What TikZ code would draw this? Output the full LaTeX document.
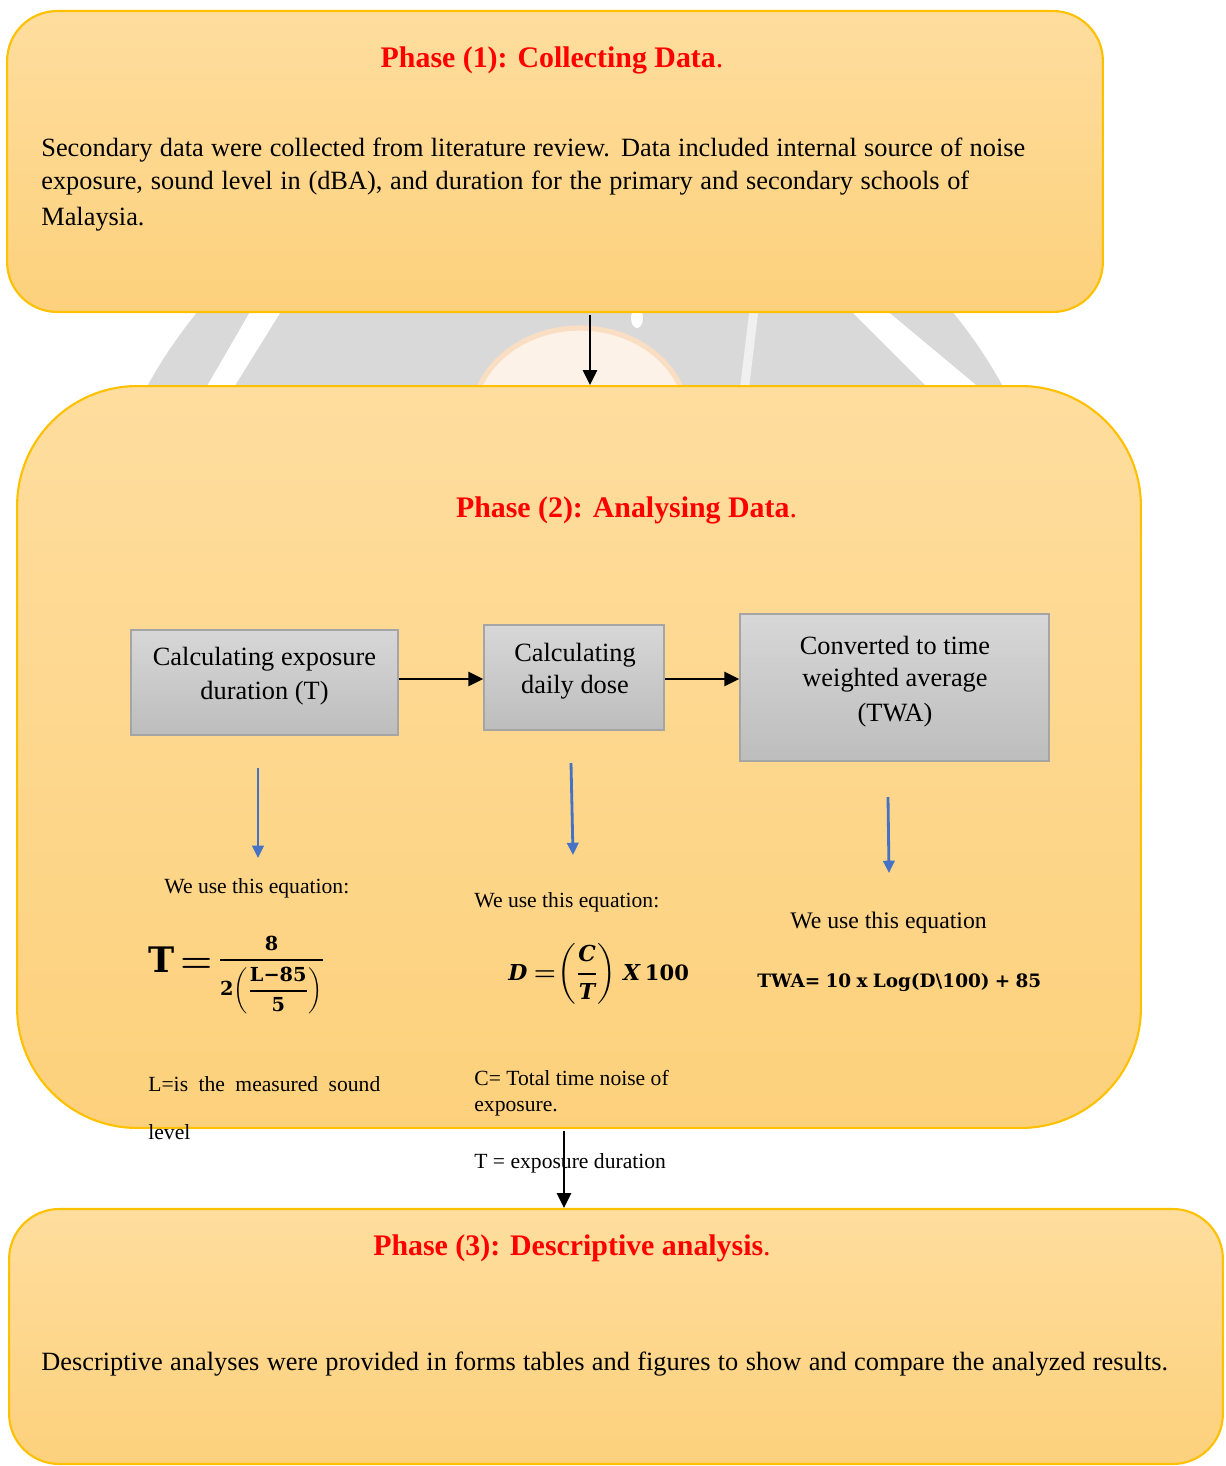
\documentclass[tikz,border=0pt]{standalone}
\usepackage{amsmath}
\usepackage{fontspec}
\setmainfont{Liberation Serif}
\newfontfamily\eqfont{DejaVu Serif}
\usetikzlibrary{arrows.meta}
\definecolor{boxtop}{RGB}{254,221,158}
\definecolor{boxbot}{RGB}{253,209,124}
\definecolor{boxline}{RGB}{255,192,0}
\definecolor{graytop}{RGB}{215,215,215}
\definecolor{graybot}{RGB}{189,189,189}
\definecolor{grayline}{RGB}{165,165,165}
\definecolor{titlered}{RGB}{255,0,0}
\definecolor{arrowblue}{RGB}{68,114,196}
\definecolor{wmgray}{RGB}{217,217,217}
\definecolor{wmface}{RGB}{253,242,232}
\definecolor{wmpeach}{RGB}{250,222,195}
\newcommand\bodyf{\fontsize{15}{18}\selectfont}
\newcommand\titlef{\fontsize{17}{20}\selectfont\bfseries}
\newcommand\boxf{\fontsize{15}{18}\selectfont}
\newcommand\smallf{\fontsize{12.3}{14}\selectfont}
\newcommand\eqb[1]{\mbox{\eqfont\bfseries #1}}
\newcommand\eqbi[1]{\mbox{\eqfont\bfseries\itshape\fontsize{12.5}{15}\selectfont #1}}
\newcommand\eqTtext{\mbox{\eqfont\bfseries\fontsize{20}{24}\selectfont T\,{\boldmath$=$}\,\raisebox{4pt}{\fontsize{11}{13}\selectfont\boldmath$\genfrac{}{}{1.1pt}{0}{\eqb{8}}{\eqb{2}\biggl(\genfrac{}{}{1.1pt}{0}{\eqb{L−85}}{\eqb{5}}\biggr)}$}}}
\newcommand\eqDtext{\mbox{\fontsize{14.4}{17}\selectfont\boldmath$\eqbi{D}\mkern4mu{=}\mkern1mu\biggl(\genfrac{}{}{1pt}{0}{\eqbi{C}}{\eqbi{T}}\biggr)\mkern4mu\eqbi{X}\mkern3mu\eqb{\fontsize{12}{14}\selectfont 100}$}}
\tikzset{
  phasebox/.style={draw=boxline, line width=1.2pt, top color=boxtop, bottom color=boxbot, inner sep=0pt},
  graybox/.style={draw=grayline, line width=0.9pt, top color=graytop, bottom color=graybot, inner sep=0pt},
  txt/.style={inner sep=0pt, anchor=base west},
  ctxt/.style={inner sep=0pt, anchor=base},
  titletxt/.style={inner sep=0pt, anchor=base, text=titlered, font=\titlef},
  blackarrow/.style={draw=black, line width=1.6pt, -{Triangle[length=8.5pt,width=8pt]}},
  bluearrow/.style={draw=arrowblue, line width=1.6pt, -{Triangle[length=7pt,width=6.5pt]}}
}
\begin{document}
\begin{tikzpicture}[x=0.02cm,y=-0.02cm]
\useasboundingbox (0,0) rectangle (1225,1466);
% watermark (visible in the gap)
\begin{scope}
\clip (0,305) rectangle (1225,405);
\fill[wmgray] (575,621) circle (9.76cm);
\fill[white] (199,400) -- (226,400) -- (285,305) -- (254,305) -- cycle;
\fill[white] (845,305) -- (880,305) -- (1000,405) -- (945,405) -- cycle;
\fill[white!60!wmgray] (750,305) -- (759,305) -- (747,405) -- (738,405) -- cycle;
\fill[white] (637,318) ellipse [x radius=0.12cm, y radius=0.2cm];
\fill[wmface, draw=wmpeach, line width=3pt] (580,420) ellipse [x radius=2.16cm, y radius=1.84cm];
\end{scope}
% phase boxes
\node[phasebox, rounded corners=1cm, minimum width=21.92cm, minimum height=6.02cm] (p1) at (555,161.5) {};
\node[phasebox, rounded corners=2.4cm, minimum width=22.48cm, minimum height=14.84cm] (p2) at (579,757) {};
\node[phasebox, rounded corners=1cm, minimum width=24.28cm, minimum height=5.1cm] (p3) at (616,1336.5) {};
% phase 1 content
\node[titletxt] (t1) at (552,68) {Phase (1): Collecting Data\textmd{.}};
\node[txt, font=\bodyf] (b1) at (41,157) {\makebox[19.68cm][s]{Secondary data were collected from literature review. Data included internal source of noise}};
\node[txt, font=\bodyf] (b2) at (41,190) {\makebox[18.56cm][s]{exposure, sound level in (dBA), and duration for the primary and secondary schools of}};
\node[txt, font=\bodyf] (b3) at (41,226) {Malaysia.};
% phase 2 content
\node[titletxt] (t2) at (626.5,517) {Phase (2): Analysing Data\textmd{.}};
\node[graybox, minimum width=5.34cm, minimum height=2.1cm] (A) at (264.5,682.5) {};
\node[graybox, minimum width=3.6cm, minimum height=2.1cm] (B) at (574,677.5) {};
\node[graybox, minimum width=6.18cm, minimum height=2.94cm] (C) at (894.5,687.5) {};
\node[ctxt, font=\boxf] (a1) at (264.5,665) {Calculating exposure};
\node[ctxt, font=\boxf] (a2) at (264.5,699) {duration (T)};
\node[ctxt, font=\boxf] (bb1) at (575,661) {Calculating};
\node[ctxt, font=\boxf] (bb2) at (575,693) {daily dose};
\node[ctxt, font=\boxf] (c1) at (895,654) {Converted to time};
\node[ctxt, font=\boxf] (c2) at (895,686) {weighted average};
\node[ctxt, font=\boxf] (c3) at (895,721) {(TWA)};
\coordinate (rowAB) at (0,679);
\draw[blackarrow] (A.east |- rowAB) -- (B.west |- rowAB);
\draw[blackarrow] (B.east |- rowAB) -- (C.west |- rowAB);
\coordinate (bA1) at (258,768); \coordinate (bA2) at (258,858);
\coordinate (bB1) at (571,763); \coordinate (bB2) at (573,855);
\coordinate (bC1) at (888,797); \coordinate (bC2) at (889,873);
\draw[bluearrow] (bA1) -- (bA2);
\draw[bluearrow] (bB1) -- (bB2);
\draw[bluearrow] (bC1) -- (bC2);
\node[txt, font=\smallf] (w1) at (164,893) {We use this equation:};
\node[txt, font=\smallf] (w2) at (474,907) {We use this equation:};
\node[txt, font=\fontsize{13.5}{16}\selectfont] (w3) at (790,928) {We use this equation};
\node[txt] (eqT) at (148,972) {\eqTtext};
\node[txt] (eqD) at (508,980) {\eqDtext};
\node[txt] (eqW) at (757,987) {\eqfont\bfseries\fontsize{10.5}{13}\selectfont\makebox[5.68cm][s]{TWA= 10 x Log(D\textbackslash 100) + 85}};
\node[txt, font=\smallf] (l1) at (148,1091) {\makebox[4.64cm][s]{L=is the measured sound}};
\node[txt, font=\smallf] (l2) at (148,1139) {level};
\node[txt, font=\smallf] (cc1) at (474,1085) {C= Total time noise of};
\node[txt, font=\smallf] (cc2) at (474,1111) {exposure.};
\node[txt, font=\smallf] (tt1) at (474,1168) {T = exposure duration};
% connectors between phases
\coordinate (a1s) at (590,315);
\draw[blackarrow, line width=1.4pt] (a1s) -- (a1s |- p2.north);
\coordinate (a3s) at (564,1131);
\draw[blackarrow] (a3s) -- (a3s |- p3.north);
% phase 3 content
\node[titletxt] (t3) at (572,1255) {Phase (3): Descriptive analysis\textmd{.}};
\node[txt, font=\bodyf] (d1) at (41,1370) {\makebox[22.54cm][s]{Descriptive analyses were provided in forms tables and figures to show and compare the analyzed results.}};
\end{tikzpicture}
\end{document}
